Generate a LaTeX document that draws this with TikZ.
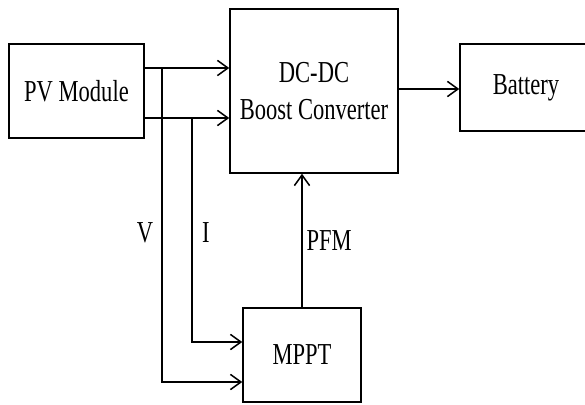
\documentclass[tikz,border=0pt]{standalone}
\usepackage{graphicx}
\usepackage{fontspec}
\setmainfont{Liberation Serif}
\usetikzlibrary{arrows.meta}
\newcommand{\squeeze}[1]{\scalebox{0.74}[1]{#1}}

\begin{document}
\begin{tikzpicture}[x=0.03cm, y=-0.03cm, line width=1.3pt,
    >={Straight Barb[length=9pt,width=13pt]},
    every node/.style={font=\fontsize{26}{31}\selectfont},
    block/.style={draw, inner sep=0pt}]
    \clip (0,0) rectangle (585,405);

    % Blocks
    \node[block, minimum width=4.05cm, minimum height=2.82cm] (pv) at (76.5,91) {\squeeze{PV Module}};
    \node[block, minimum width=5.04cm, minimum height=4.92cm, align=center] (conv) at (314,91) {\squeeze{DC-DC}\\\squeeze{Boost Converter}};
    \node[block, minimum width=3.96cm, minimum height=2.61cm] (bat) at (526,87.5) {\squeeze{Battery}};
    \node[block, minimum width=3.54cm, minimum height=2.82cm] (mppt) at (302,355) {\squeeze{MPPT}};

    % Sensing taps
    \coordinate (vtap) at (162,68);
    \coordinate (itap) at (192,118);

    % Power path
    \draw[->] (pv.east |- vtap) -- (conv.west |- vtap);
    \draw[->] (pv.east |- itap) -- (conv.west |- itap);
    \draw[->] (conv.east |- 0,89) -- (bat.west |- 0,89);

    % Measurements to MPPT
    \draw[->] (vtap) |- (mppt.west |- 0,382);
    \draw[->] (itap) |- (mppt.west |- 0,342);
    \node (vlbl) at (145,233) {\squeeze{V}};
    \node (ilbl) at (206,233) {\squeeze{I}};

    % Control signal
    \draw[->] (mppt.north) -- (mppt.north |- conv.south) node[midway, right] {\squeeze{PFM}};
\end{tikzpicture}
\end{document}
